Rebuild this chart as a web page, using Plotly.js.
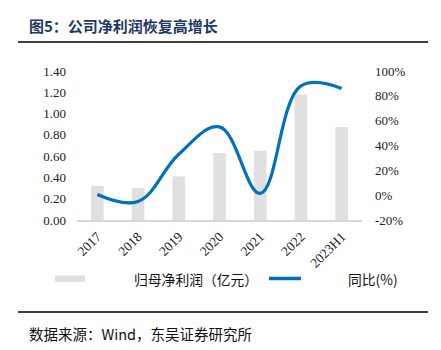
<!DOCTYPE html>
<html>
<head>
<meta charset="utf-8">
<script src="https://cdn.plot.ly/plotly-3.0.1.min.js"></script>
<style>
html,body{margin:0;padding:0;background:#fff;}
#chart{width:441px;height:350px;}
</style>
</head>
<body>
<div id="chart"></div>
<script>
const categories = ["2017","2018","2019","2020","2021","2022","2023H1"];
const netProfit = [0.32, 0.30, 0.41, 0.63, 0.65, 1.18, 0.875];
const yoyPct = [0.5, -5, 33, 55, 1.5, 88, 86];
const leftTicks = [0, 0.2, 0.4, 0.6, 0.8, 1.0, 1.2, 1.4];
const rightTicks = [-20, 0, 20, 40, 60, 80, 100];
const seriesNames = ["归母净利润（亿元）", "同比(%)"];
const titleText = "图5：公司净利润恢复高增长";
const sourceText = "数据来源：Wind，东吴证券研究所";

const serif = "Liberation Serif, Times New Roman, serif";
const cjk = "Noto Sans CJK SC, sans-serif";

const traces = [
  {
    type: "bar", x: categories, y: netProfit, name: seriesNames[0],
    marker: {color: "#e0e0e0"}, yaxis: "y", showlegend: false
  },
  {
    type: "scatter", mode: "lines", x: categories, y: yoyPct, name: seriesNames[1],
    line: {color: "#0070c0", width: 3.2, shape: "spline", smoothing: 1.1},
    yaxis: "y2", showlegend: false
  }
];

const W = 441, H = 350;
const mL = 77, mR = 79, mT = 71, mB = 130;
const pw = W - mL - mR, ph = H - mT - mB;
const ax = x => (x - mL) / pw;
const ay = y => (H - mB - y) / ph;

const layout = {
  width: W, height: H,
  margin: {l: mL, r: mR, t: mT, b: mB},
  paper_bgcolor: "#fff", plot_bgcolor: "#fff",
  bargap: 0.69,
  showlegend: false,
  xaxis: {
    type: "category", range: [-0.5, 6.5], tickangle: -45,
    tickfont: {family: serif, size: 13.5, color: "#222"},
    showline: true, linecolor: "#d9d9d9", linewidth: 1.5,
    ticks: "", showgrid: false, zeroline: false, ticklabelstandoff: 2
  },
  yaxis: {
    range: [0, 1.4], tickvals: leftTicks,
    ticktext: leftTicks.map(v => v.toFixed(2)),
    tickfont: {family: serif, size: 13, color: "#222"},
    showgrid: false, zeroline: false, showline: false, ticks: "",
    ticklabelstandoff: 10
  },
  yaxis2: {
    overlaying: "y", side: "right", range: [-20, 100],
    tickvals: rightTicks, ticktext: rightTicks.map(v => v + "%"),
    tickfont: {family: serif, size: 13, color: "#222"},
    showgrid: false, zeroline: false, showline: false, ticks: "",
    ticklabelstandoff: 12
  },
  shapes: [
    {type: "line", xref: "paper", yref: "paper", x0: ax(18), x1: ax(428), y0: ay(42), y1: ay(42), line: {color: "#000", width: 1.5}},
    {type: "line", xref: "paper", yref: "paper", x0: ax(18), x1: ax(428), y0: ay(312), y1: ay(312), line: {color: "#000", width: 1.5}},
    {type: "rect", xref: "paper", yref: "paper", x0: ax(55), x1: ax(85), y0: ay(282), y1: ay(275.5), fillcolor: "#e0e0e0", line: {width: 0}},
    {type: "line", xref: "paper", yref: "paper", x0: ax(269), x1: ax(301), y0: ay(278.5), y1: ay(278.5), line: {color: "#0070c0", width: 3.5}}
  ],
  annotations: [
    {xref: "paper", yref: "paper", x: ax(27), y: ay(25), xanchor: "left", yanchor: "middle", showarrow: false,
     text: "<b>" + titleText + "</b>", font: {family: cjk, size: 15, color: "#1f3864"}},
    {xref: "paper", yref: "paper", x: ax(27), y: ay(333), xanchor: "left", yanchor: "middle", showarrow: false,
     text: sourceText, font: {family: cjk, size: 14.5, color: "#111"}},
    {xref: "paper", yref: "paper", x: ax(132), y: ay(279), xanchor: "left", yanchor: "middle", showarrow: false,
     text: seriesNames[0], font: {family: cjk, size: 13.8, color: "#111"}},
    {xref: "paper", yref: "paper", x: ax(346), y: ay(279), xanchor: "left", yanchor: "middle", showarrow: false,
     text: seriesNames[1], font: {family: cjk, size: 13.8, color: "#111"}}
  ]
};

Plotly.newPlot("chart", traces, layout, {displayModeBar: false, staticPlot: true});
</script>
</body>
</html>
